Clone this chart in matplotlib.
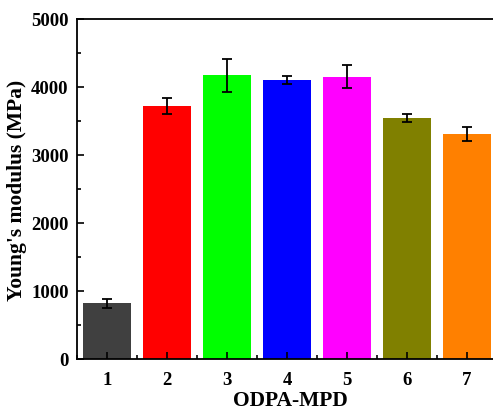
import numpy as np
import matplotlib.pyplot as plt
from matplotlib.ticker import MultipleLocator

# sample data
samples = ['1', '2', '3', '4', '5', '6', '7']
modulus = [819, 3725, 4172, 4103, 4152, 3549, 3304]
errors = [68, 120, 245, 60, 165, 60, 103]
colors = ['#404040', '#ff0000', '#00ff00', '#0000ff', '#ff00ff', '#808000', '#ff8000']

plt.rcParams['font.family'] = 'Liberation Serif'
plt.rcParams['font.weight'] = 'bold'

fig = plt.figure(figsize=(4.93, 4.10), dpi=100)
# the right spine sits just outside the picture, as in the original crop
ax = fig.add_axes([77 / 493, 50 / 410, 426 / 493, 340 / 410])

x = np.arange(1, len(samples) + 1)
ax.bar(x, modulus, width=0.8, color=colors, yerr=errors,
       error_kw=dict(ecolor='black', elinewidth=1.3, capsize=3.5, capthick=1.3))

ax.set_xlim(0.5, 7.6)
ax.set_ylim(0, 5000)
ax.set_xticks(x)
ax.set_xticklabels(samples)
ax.xaxis.set_minor_locator(MultipleLocator(0.5))
ax.yaxis.set_major_locator(MultipleLocator(1000))
ax.yaxis.set_minor_locator(MultipleLocator(500))
ax.tick_params(which='both', direction='in', labelsize=13.5, width=1.2)
ax.tick_params(which='major', length=5)
ax.tick_params(which='minor', length=3)
ax.tick_params(axis='x', pad=9)
ax.tick_params(axis='y', pad=6)
for lab in ax.get_xticklabels() + ax.get_yticklabels():
    lab.set_fontweight('bold')
for sp in ax.spines.values():
    sp.set_linewidth(1.3)

ax.set_xlabel('ODPA-MPD', fontsize=15.5, fontweight='bold', labelpad=1)
ax.set_ylabel("Young's modulus (MPa)", fontsize=15.5, fontweight='bold', labelpad=3)

fig.savefig('out.png', dpi=100)
